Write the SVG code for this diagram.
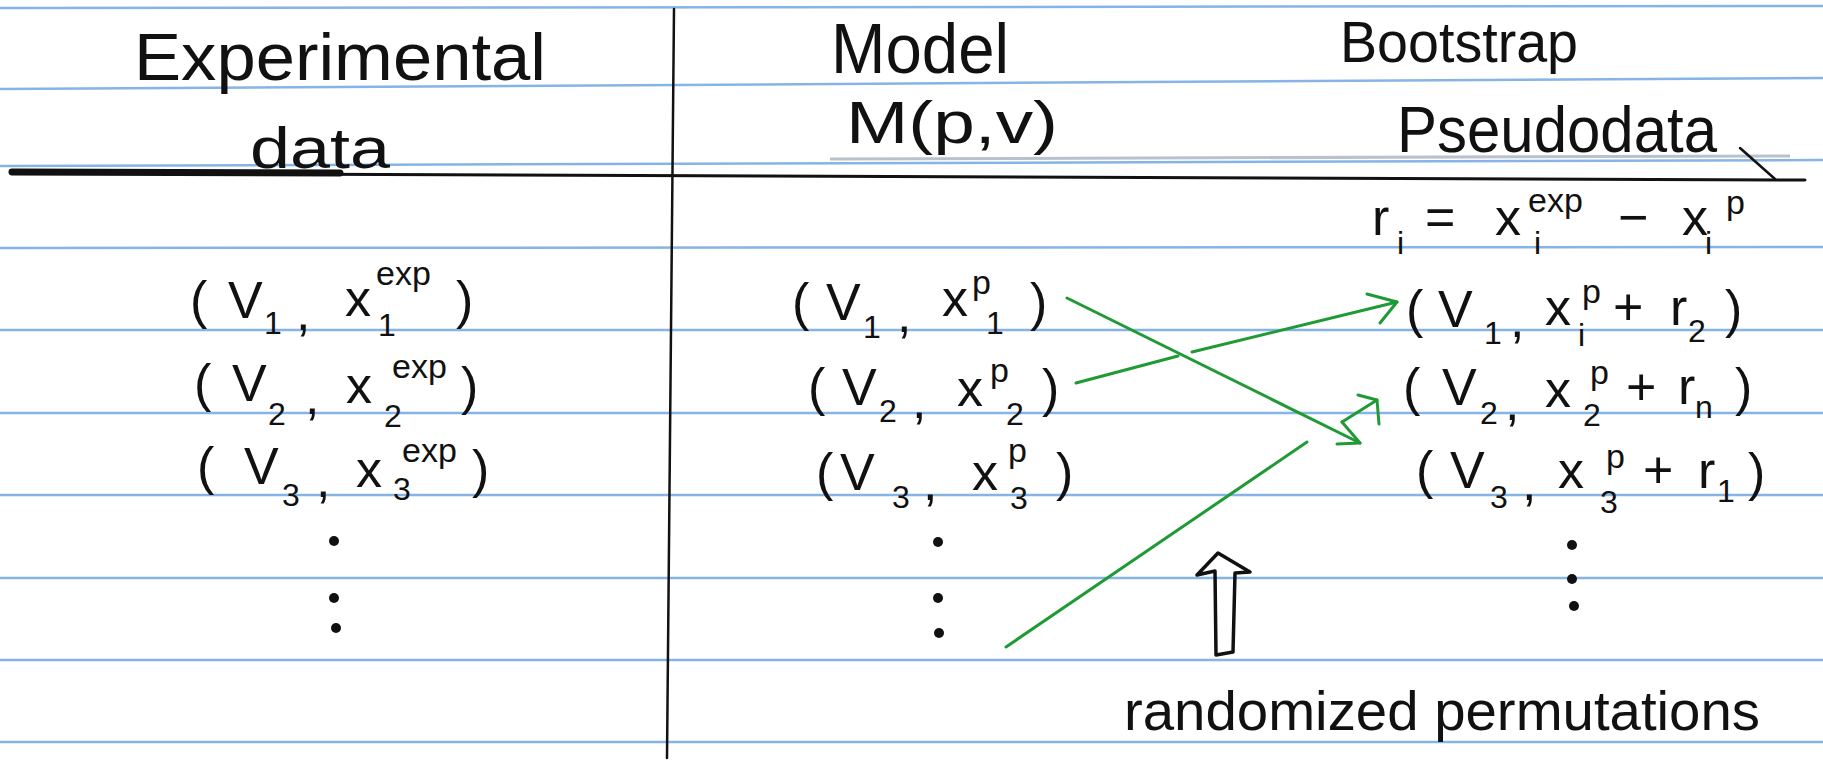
<svg xmlns="http://www.w3.org/2000/svg" width="1823" height="765" viewBox="0 0 1823 765">
<style>
.rule{stroke:#86b4e6;stroke-width:2.5;fill:none}
.ink{stroke:#111;fill:none;stroke-linecap:round;stroke-linejoin:round}
.t{font-family:"Liberation Sans",Arial,sans-serif;fill:#111}
.m{font-size:52px}
.s{font-size:32px}
.e{font-size:34px}
.g{stroke:#1f9a35;stroke-width:3;fill:none;stroke-linecap:round;stroke-linejoin:round}
.dot{fill:#111}
</style>
<rect width="1823" height="765" fill="#ffffff"/>
<g id="paper">
<line class="rule" x1="0" y1="8" x2="1823" y2="6"/>
<line class="rule" x1="0" y1="89" x2="1823" y2="78"/>
<line class="rule" x1="0" y1="166" x2="1823" y2="160"/>
<line class="rule" x1="0" y1="248" x2="1823" y2="247"/>
<line class="rule" x1="0" y1="330" x2="1823" y2="330"/>
<line class="rule" x1="0" y1="413" x2="1823" y2="413"/>
<line class="rule" x1="0" y1="495" x2="1823" y2="495"/>
<line class="rule" x1="0" y1="578" x2="1823" y2="578"/>
<line class="rule" x1="0" y1="660" x2="1823" y2="660"/>
<line class="rule" x1="0" y1="742" x2="1823" y2="742"/>
<line x1="830" y1="159" x2="1790" y2="156" stroke="#b9c2cc" stroke-width="3"/>
<line class="ink" x1="12" y1="172" x2="340" y2="173" stroke-width="7"/>
<line class="ink" x1="12" y1="173" x2="1805" y2="180" stroke-width="3"/>
<line class="ink" x1="1740" y1="148" x2="1775" y2="179" stroke-width="2.5"/>
<line class="ink" x1="674" y1="9" x2="667" y2="758" stroke-width="2.5"/>
</g>
<g id="header-experimental">
<text class="t" x="134" y="80" font-size="67" textLength="412" lengthAdjust="spacingAndGlyphs">Experimental</text>
<text class="t" x="250" y="168" font-size="58" textLength="140" lengthAdjust="spacingAndGlyphs">data</text>
</g>
<g id="header-model">
<text class="t" x="831" y="73" font-size="70" textLength="178" lengthAdjust="spacingAndGlyphs">Model</text>
<text class="t" x="846" y="143" font-size="60" textLength="212" lengthAdjust="spacingAndGlyphs">M(p,v)</text>
</g>
<g id="header-bootstrap">
<text class="t" x="1340" y="62" font-size="58" textLength="238" lengthAdjust="spacingAndGlyphs">Bootstrap</text>
<text class="t" x="1397" y="152" font-size="64" textLength="320" lengthAdjust="spacingAndGlyphs">Pseudodata</text>
</g>
<g id="residual-def">
<text class="t m"><tspan x="1372" y="235">r</tspan><tspan class="s" x="1397" y="254">i</tspan><tspan x="1425" y="235">=</tspan><tspan x="1495" y="235">x</tspan><tspan class="e" x="1528" y="212">exp</tspan><tspan class="s" x="1534" y="254">i</tspan><tspan x="1618" y="235">−</tspan><tspan x="1682" y="235">x</tspan><tspan class="s" x="1705" y="254">i</tspan><tspan class="e" x="1726" y="214">p</tspan></text>
</g>
<g id="exp-data">
<text class="t m"><tspan x="190" y="318">(</tspan><tspan x="228" y="318">V</tspan><tspan class="s" x="264" y="334">1</tspan><tspan x="296" y="330">,</tspan><tspan x="345" y="316">x</tspan><tspan class="s" x="378" y="336">1</tspan><tspan class="e" x="376" y="285">exp</tspan><tspan x="456" y="318">)</tspan></text>
<text class="t m"><tspan x="194" y="401">(</tspan><tspan x="232" y="401">V</tspan><tspan class="s" x="268" y="425">2</tspan><tspan x="305" y="414">,</tspan><tspan x="346" y="403">x</tspan><tspan class="s" x="384" y="427">2</tspan><tspan class="e" x="392" y="378">exp</tspan><tspan x="461" y="404">)</tspan></text>
<text class="t m"><tspan x="197" y="484">(</tspan><tspan x="244" y="484">V</tspan><tspan class="s" x="282" y="506">3</tspan><tspan x="316" y="497">,</tspan><tspan x="356" y="487">x</tspan><tspan class="s" x="393" y="500">3</tspan><tspan class="e" x="402" y="462">exp</tspan><tspan x="472" y="487">)</tspan></text>
<circle class="dot" cx="334" cy="541" r="5"/>
<circle class="dot" cx="334" cy="598" r="5"/>
<circle class="dot" cx="336" cy="628" r="5"/>
</g>
<g id="model-data">
<text class="t m"><tspan x="792" y="320">(</tspan><tspan x="826" y="320">V</tspan><tspan class="s" x="863" y="338">1</tspan><tspan x="897" y="332">,</tspan><tspan x="942" y="316">x</tspan><tspan class="e" x="972" y="294">p</tspan><tspan class="s" x="986" y="334">1</tspan><tspan x="1030" y="320">)</tspan></text>
<text class="t m"><tspan x="808" y="405">(</tspan><tspan x="842" y="405">V</tspan><tspan class="s" x="879" y="422">2</tspan><tspan x="912" y="418">,</tspan><tspan x="957" y="406">x</tspan><tspan class="e" x="990" y="382">p</tspan><tspan class="s" x="1006" y="425">2</tspan><tspan x="1042" y="406">)</tspan></text>
<text class="t m"><tspan x="816" y="490">(</tspan><tspan x="840" y="490">V</tspan><tspan class="s" x="892" y="508">3</tspan><tspan x="923" y="500">,</tspan><tspan x="972" y="490">x</tspan><tspan class="e" x="1008" y="462">p</tspan><tspan class="s" x="1010" y="509">3</tspan><tspan x="1056" y="490">)</tspan></text>
<circle class="dot" cx="938" cy="542" r="5"/>
<circle class="dot" cx="938" cy="598" r="5"/>
<circle class="dot" cx="939" cy="633" r="5"/>
</g>
<g id="pseudo-data">
<text class="t m"><tspan x="1406" y="327">(</tspan><tspan x="1438" y="327">V</tspan><tspan class="s" x="1484" y="344">1</tspan><tspan x="1510" y="337">,</tspan><tspan x="1545" y="325">x</tspan><tspan class="e" x="1582" y="303">p</tspan><tspan class="s" x="1578" y="346">i</tspan><tspan x="1613" y="325">+</tspan><tspan x="1670" y="325">r</tspan><tspan class="s" x="1688" y="342">2</tspan><tspan x="1725" y="327">)</tspan></text>
<text class="t m"><tspan x="1403" y="405">(</tspan><tspan x="1442" y="405">V</tspan><tspan class="s" x="1480" y="424">2</tspan><tspan x="1505" y="420">,</tspan><tspan x="1545" y="407">x</tspan><tspan class="e" x="1590" y="384">p</tspan><tspan class="s" x="1583" y="426">2</tspan><tspan x="1626" y="405">+</tspan><tspan x="1678" y="404">r</tspan><tspan class="s" x="1695" y="418">n</tspan><tspan x="1735" y="405">)</tspan></text>
<text class="t m"><tspan x="1416" y="488">(</tspan><tspan x="1450" y="488">V</tspan><tspan class="s" x="1490" y="508">3</tspan><tspan x="1522" y="500">,</tspan><tspan x="1558" y="488">x</tspan><tspan class="e" x="1606" y="468">p</tspan><tspan class="s" x="1600" y="513">3</tspan><tspan x="1643" y="488">+</tspan><tspan x="1698" y="488">r</tspan><tspan class="s" x="1717" y="502">1</tspan><tspan x="1748" y="490">)</tspan></text>
<circle class="dot" cx="1572" cy="545" r="5"/>
<circle class="dot" cx="1572" cy="579" r="5"/>
<circle class="dot" cx="1574" cy="606" r="5"/>
</g>
<g id="permutation-note">
<path class="ink" stroke-width="3.5" d="M1218,553 L1250,572 L1235,573 L1233,652 L1216,655 L1215,571 L1197,575 Z"/>
<text class="t" x="1124" y="730" font-size="56" textLength="636" lengthAdjust="spacingAndGlyphs">randomized permutations</text>
</g>
<g id="connectors">
<path class="g" d="M1067,298 L1360,443"/>
<path class="g" d="M1337,444 L1360,443 L1342,422"/>
<path class="g" d="M1076,383 L1178,356" stroke-width="4"/>
<path class="g" d="M1192,352 L1397,302" stroke-width="3.5"/>
<path class="g" d="M1367,294 L1397,302 L1380,323"/>
<path class="g" d="M1006,647 L1307,442"/>
<path class="g" d="M1342,422 L1377,400"/>
<path class="g" d="M1358,395 L1377,400 L1379,424"/>
</g>
</svg>
